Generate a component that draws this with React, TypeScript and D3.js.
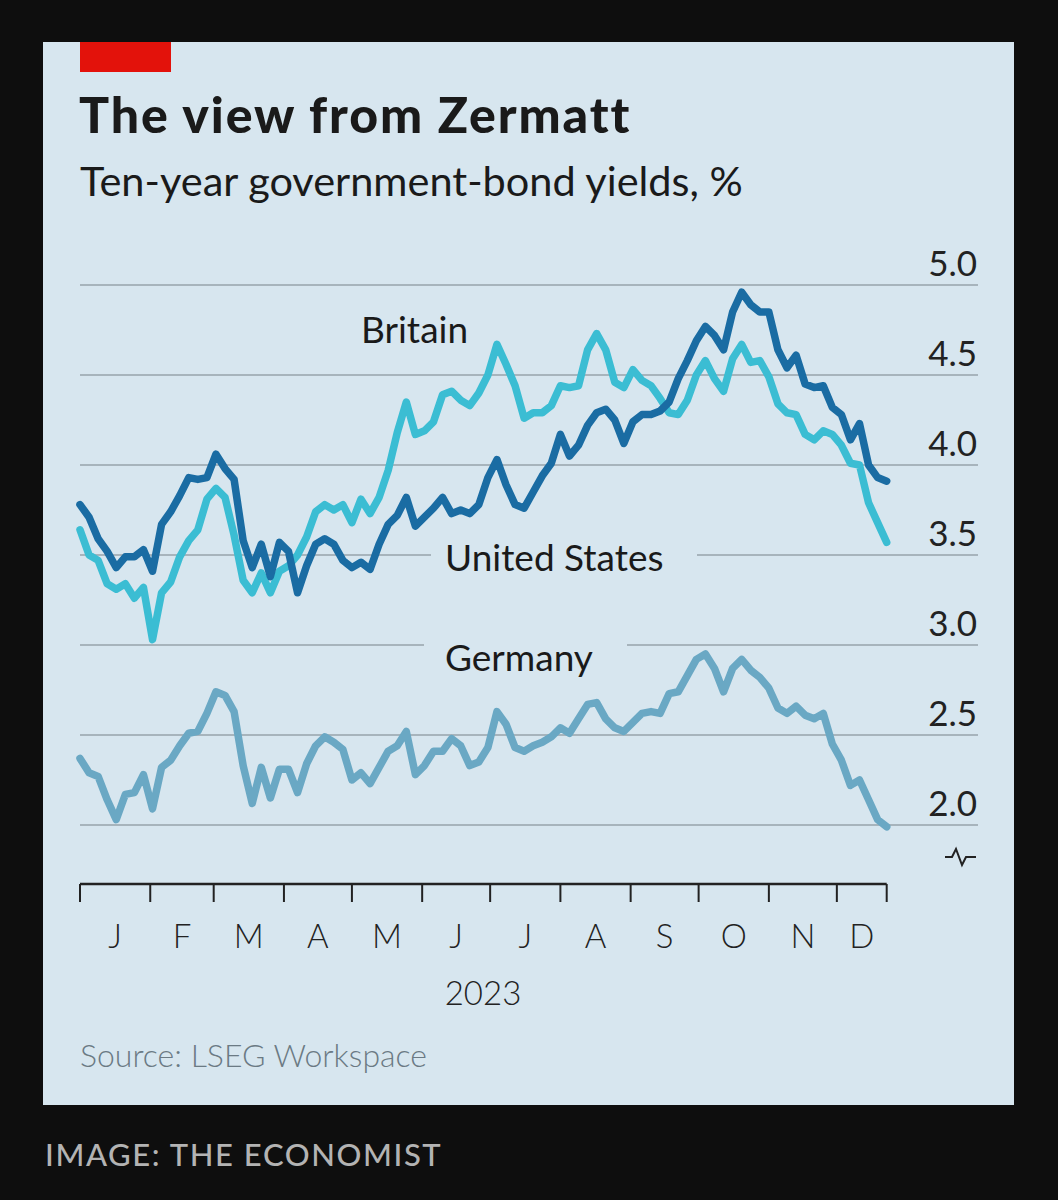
import React from "react";
import * as d3 from "d3";

const START = new Date(2023, 0, 1);
const END = new Date(2023, 11, 23);
// sampling dates every 4 days, Jan 1 to Dec 23 2023
const dates: Date[] = d3.timeDay.range(START, new Date(2023, 11, 24), 4);

const unitedStates = [
  3.78, 3.71, 3.59, 3.52, 3.43, 3.49, 3.49, 3.53, 3.41, 3.67,
  3.74, 3.83, 3.93, 3.92, 3.93, 4.06, 3.98, 3.92, 3.58, 3.43,
  3.56, 3.38, 3.57, 3.52, 3.29, 3.44, 3.56, 3.59, 3.56, 3.47,
  3.43, 3.46, 3.42, 3.56, 3.67, 3.72, 3.82, 3.66, 3.71, 3.76,
  3.82, 3.73, 3.75, 3.73, 3.78, 3.93, 4.03, 3.89, 3.78, 3.76,
  3.85, 3.94, 4.01, 4.17, 4.05, 4.11, 4.22, 4.29, 4.31, 4.25,
  4.12, 4.24, 4.28, 4.28, 4.30, 4.35, 4.48, 4.58, 4.69, 4.77,
  4.72, 4.64, 4.85, 4.96, 4.89, 4.85, 4.85, 4.64, 4.54, 4.61,
  4.45, 4.43, 4.44, 4.32, 4.28, 4.14, 4.23, 4.00, 3.93, 3.91,
];

const britain = [
  3.64, 3.50, 3.47, 3.34, 3.31, 3.34, 3.26, 3.32, 3.03, 3.29,
  3.35, 3.49, 3.58, 3.64, 3.81, 3.87, 3.82, 3.61, 3.36, 3.29,
  3.40, 3.29, 3.41, 3.44, 3.50, 3.60, 3.74, 3.78, 3.75, 3.78,
  3.68, 3.81, 3.73, 3.82, 3.97, 4.18, 4.35, 4.17, 4.19, 4.24,
  4.39, 4.41, 4.36, 4.33, 4.40, 4.50, 4.67, 4.56, 4.44, 4.26,
  4.29, 4.29, 4.33, 4.44, 4.43, 4.44, 4.64, 4.73, 4.64, 4.46,
  4.43, 4.53, 4.47, 4.44, 4.37, 4.29, 4.28, 4.36, 4.50, 4.58,
  4.48, 4.41, 4.59, 4.67, 4.57, 4.58, 4.49, 4.34, 4.29, 4.28,
  4.17, 4.14, 4.19, 4.17, 4.11, 4.01, 4.00, 3.79, 3.68, 3.57,
];

const germany = [
  2.37, 2.29, 2.27, 2.14, 2.03, 2.17, 2.18, 2.28, 2.09, 2.32,
  2.36, 2.44, 2.51, 2.52, 2.62, 2.74, 2.72, 2.63, 2.33, 2.12,
  2.32, 2.15, 2.31, 2.31, 2.18, 2.34, 2.44, 2.49, 2.46, 2.42,
  2.25, 2.29, 2.23, 2.32, 2.41, 2.44, 2.52, 2.28, 2.33, 2.41,
  2.41, 2.48, 2.44, 2.33, 2.35, 2.43, 2.63, 2.56, 2.43, 2.41,
  2.44, 2.46, 2.49, 2.54, 2.51, 2.59, 2.67, 2.68, 2.59, 2.54,
  2.52, 2.57, 2.62, 2.63, 2.62, 2.73, 2.74, 2.83, 2.92, 2.95,
  2.87, 2.74, 2.87, 2.92, 2.86, 2.82, 2.76, 2.65, 2.62, 2.66,
  2.61, 2.59, 2.62, 2.45, 2.36, 2.22, 2.25, 2.14, 2.03, 1.99,
];

const yTicks = [2.0, 2.5, 3.0, 3.5, 4.0, 4.5, 5.0];
const monthLabels = ["J", "F", "M", "A", "M", "J", "J", "A", "S", "O", "N", "D"];

const BG = "#d7e6ef";
const FONT = "Lato, 'Open Sans', sans-serif";

export default function App() {
  const x = d3.scaleTime().domain([START, END]).range([80, 886.7]);
  const y = d3.scaleLinear().domain([2, 5]).range([825, 285]);

  const line = d3
    .line<number>()
    .x((_, i) => x(dates[i]))
    .y((d) => y(d));

  const monthStarts = d3.timeMonth.range(START, new Date(2023, 11, 2));
  const tickXs = [...monthStarts.map((d) => x(d)), x(END)];

  const series = [
    { name: "Germany", values: germany, color: "#6aa8c4" },
    { name: "Britain", values: britain, color: "#3bbdd3" },
    { name: "United States", values: unitedStates, color: "#1a6ca3" },
  ];

  const axisY = 884;

  return (
    <svg
      width={1058}
      height={1200}
      style={{ position: "absolute", left: 0, top: 0, display: "block" }}
      fontFamily={FONT}
    >
      <rect x={0} y={0} width={1058} height={1200} fill="#0e0e0e" />
      <rect x={43} y={42} width={971} height={1063} fill={BG} />
      <rect x={80} y={42} width={91} height={30} fill="#e3120b" />

      <text x={79} y={133} fontSize={50} fontWeight={900} letterSpacing={1.9} fill="#1a1a1a">
        The view from Zermatt
      </text>
      <text x={80} y={196} fontSize={41.5} fill="#1a1a1a">
        Ten-year government-bond yields, %
      </text>

      {/* gridlines */}
      {yTicks.map((t) => (
        <g key={t}>
          <line x1={80} x2={978} y1={y(t)} y2={y(t)} stroke="#a7b4bc" strokeWidth={2} />
          <text x={977} y={y(t) - 9} textAnchor="end" fontSize={35} fill="#222">
            {t.toFixed(1)}
          </text>
        </g>
      ))}

      {/* label backgrounds to break gridlines */}
      <rect x={431} y={y(3.5) - 6} width={266} height={12} fill={BG} />
      <rect x={424} y={y(3.0) - 6} width={203} height={12} fill={BG} />

      {/* series labels */}
      <text x={361} y={343} fontSize={37} fill="#1a1a1a">Britain</text>
      <text x={445} y={571} fontSize={37} fill="#1a1a1a">United States</text>
      <text x={445} y={671} fontSize={37} fill="#1a1a1a">Germany</text>

      {/* lines */}
      {series.map((s) => (
        <path
          key={s.name}
          d={line(s.values) || ""}
          fill="none"
          stroke={s.color}
          strokeWidth={7.5}
          strokeLinejoin="round"
          strokeLinecap="round"
        />
      ))}

      {/* axis break symbol */}
      <path
        d="M945,857 L952,857 L956,849 L962,865 L966,857 L976,857"
        fill="none"
        stroke="#222"
        strokeWidth={2}
      />

      {/* x axis */}
      <line x1={80} x2={x(END)} y1={axisY} y2={axisY} stroke="#222" strokeWidth={2.5} />
      {tickXs.map((tx, i) => (
        <line key={i} x1={tx} x2={tx} y1={axisY} y2={axisY + 18} stroke="#222" strokeWidth={2} />
      ))}
      {monthLabels.map((m, i) => {
        const a = tickXs[i];
        const b = tickXs[i + 1];
        return (
          <text
            key={i}
            x={(a + b) / 2}
            y={948}
            textAnchor="middle"
            fontSize={33}
            fontWeight={300}
            fill="#222"
          >
            {m}
          </text>
        );
      })}
      <text x={483} y={1005} textAnchor="middle" fontSize={33} fontWeight={300} fill="#222">
        2023
      </text>

      <text x={80} y={1067} fontSize={32} fontWeight={300} fill="#6b7a84">
        Source: LSEG Workspace
      </text>

      <text x={45} y={1166} fontSize={31} fontWeight={500} letterSpacing={1.6} fill="#b3b3b3">
        IMAGE: THE ECONOMIST
      </text>
    </svg>
  );
}
